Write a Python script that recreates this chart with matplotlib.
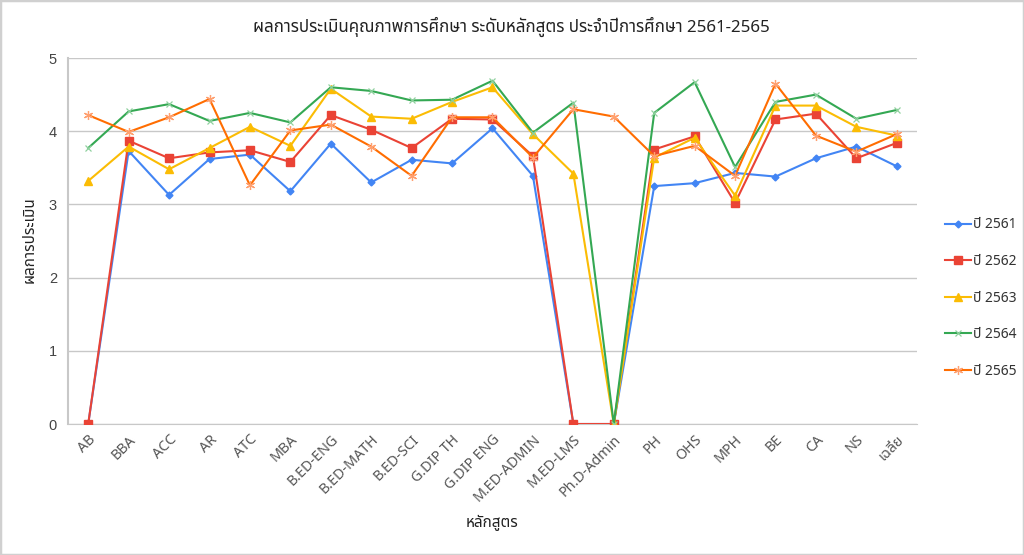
import matplotlib
matplotlib.use("Agg")
import matplotlib.pyplot as plt
from matplotlib import font_manager, ft2font
from matplotlib.patches import Rectangle

categories = ["AB", "BBA", "ACC", "AR", "ATC", "MBA", "B.ED-ENG", "B.ED-MATH",
              "B.ED-SCI", "G.DIP TH", "G.DIP ENG", "M.ED-ADMIN", "M.ED-LMS",
              "Ph.D-Admin", "PH", "OHS", "MPH", "BE", "CA", "NS", "เฉลี่ย"]

y2561 = [0, 3.73, 3.13, 3.62, 3.68, 3.18, 3.83, 3.30, 3.61, 3.56, 4.04, 3.39, 0,
         0, 3.25, 3.29, 3.43, 3.38, 3.63, 3.79, 3.52]
y2562 = [0, 3.87, 3.63, 3.71, 3.74, 3.58, 4.22, 4.02, 3.77, 4.17, 4.16, 3.66, 0,
         0, 3.75, 3.93, 3.02, 4.16, 4.24, 3.63, 3.84]
y2563 = [3.32, 3.79, 3.48, 3.77, 4.06, 3.80, 4.58, 4.20, 4.17, 4.40, 4.60, 3.96, 3.42,
         0, 3.64, 3.91, 3.12, 4.35, 4.35, 4.06, 3.94]
y2564 = [3.77, 4.27, 4.37, 4.14, 4.25, 4.12, 4.60, 4.55, 4.42, 4.43, 4.69, 3.98, 4.39,
         0, 4.25, 4.67, 3.51, 4.40, 4.50, 4.17, 4.29]
y2565 = [4.22, 3.99, 4.19, 4.44, 3.26, 4.01, 4.09, 3.79, 3.39, 4.19, 4.19, 3.64, 4.30,
         4.20, 3.66, 3.80, 3.39, 4.65, 3.94, 3.72, 3.96]

series_names = ["ปี 2561", "ปี 2562", "ปี 2563", "ปี 2564", "ปี 2565"]
y_ticks = [0, 1, 2, 3, 4, 5]

title = "ผลการประเมินคุณภาพการศึกษา ระดับหลักสูตร ประจำปีการศึกษา 2561-2565"
xlabel = "หลักสูตร"
ylabel = "ผลการประเมิน"


def find_thai_font():
    prefs = []
    for f in font_manager.fontManager.ttflist:
        try:
            cm = ft2font.FT2Font(f.fname).get_charmap()
        except Exception:
            continue
        if 0x0E01 in cm and 0x0E48 in cm:
            prefs.append(f.name)
    order = ["Noto Sans Thai", "Noto Sans Thai UI", "Leelawadee UI", "Tahoma", "Sarabun"]
    for o in order:
        if o in prefs:
            return o
    return prefs[0] if prefs else None


thai = find_thai_font()
base = "Open Sans"
fam = [thai, base, "DejaVu Sans"] if thai else [base, "DejaVu Sans"]
plt.rcParams["font.family"] = fam

fig = plt.figure(figsize=(10.24, 5.55), dpi=100)
fig.patches.append(Rectangle((0, 0), 1, 1, transform=fig.transFigure,
                             fill=False, edgecolor="#d0d0d0", linewidth=2.5))
ax = fig.add_axes([68 / 1024, 1 - 424 / 555, (917 - 68) / 1024, (424 - 58) / 555])

x = list(range(len(categories)))
styles = [
    dict(color="#4285F4", marker="D", markersize=3.5),
    dict(color="#EA4335", marker="s", markersize=5.5),
    dict(color="#FBBC04", marker="^", markersize=5.5),
    dict(color="#34A853", marker="x", markersize=5, markeredgewidth=0.9,
         markeredgecolor="#8fd19e"),
    dict(color="#FF6D01", marker=(6, 2, 0), markersize=6.5, markeredgewidth=0.9,
         markeredgecolor="#ffa070"),
]
data = [y2561, y2562, y2563, y2564, y2565]
for vals, name, st in zip(data, series_names, styles):
    ax.plot(x, vals, label=name, linewidth=1.5, zorder=3, **st)

ax.set_xlim(-0.5, len(categories) - 0.5)
ax.set_ylim(0, 5)
ax.set_yticks(y_ticks)
ax.set_xticks(x)
ax.set_xticklabels(categories, rotation=45, ha="right", rotation_mode="anchor",
                   fontsize=10.3, color="#555555")
ax.tick_params(axis="y", labelsize=10.5, colors="#444444", length=0, pad=8)
for lab in ax.get_yticklabels():
    lab.set_fontfamily(["Liberation Sans", "DejaVu Sans"])
ax.tick_params(axis="x", length=0, pad=6)
ax.grid(axis="y", color="#c8c8c8", linewidth=1)
ax.set_axisbelow(True)
for s in ["top", "right"]:
    ax.spines[s].set_visible(False)
ax.spines["left"].set_color("#c8c8c8")
ax.spines["bottom"].set_color("#c8c8c8")
ax.spines["left"].set_linewidth(1.5)

fig.text(511 / 1024, 1 - 27 / 555, title, ha="center", va="center",
         fontsize=12.2, color="#222222")
fig.text(492 / 1024, 1 - 523 / 555, xlabel, ha="center", va="center",
         fontsize=11, fontweight="bold", color="#222222")
fig.text(30 / 1024, 1 - 240 / 555, ylabel, ha="center", va="center",
         rotation=90, fontsize=11, fontweight="bold", color="#222222")

leg = ax.legend(loc="center left", frameon=False, fontsize=10, labelspacing=1.55,
                handlelength=1.9, handletextpad=0.15, labelcolor="#333333")
leg.set_bbox_to_anchor((932 / 1024, 1 - 298 / 555), transform=fig.transFigure)

fig.savefig("out.png", dpi=100)
